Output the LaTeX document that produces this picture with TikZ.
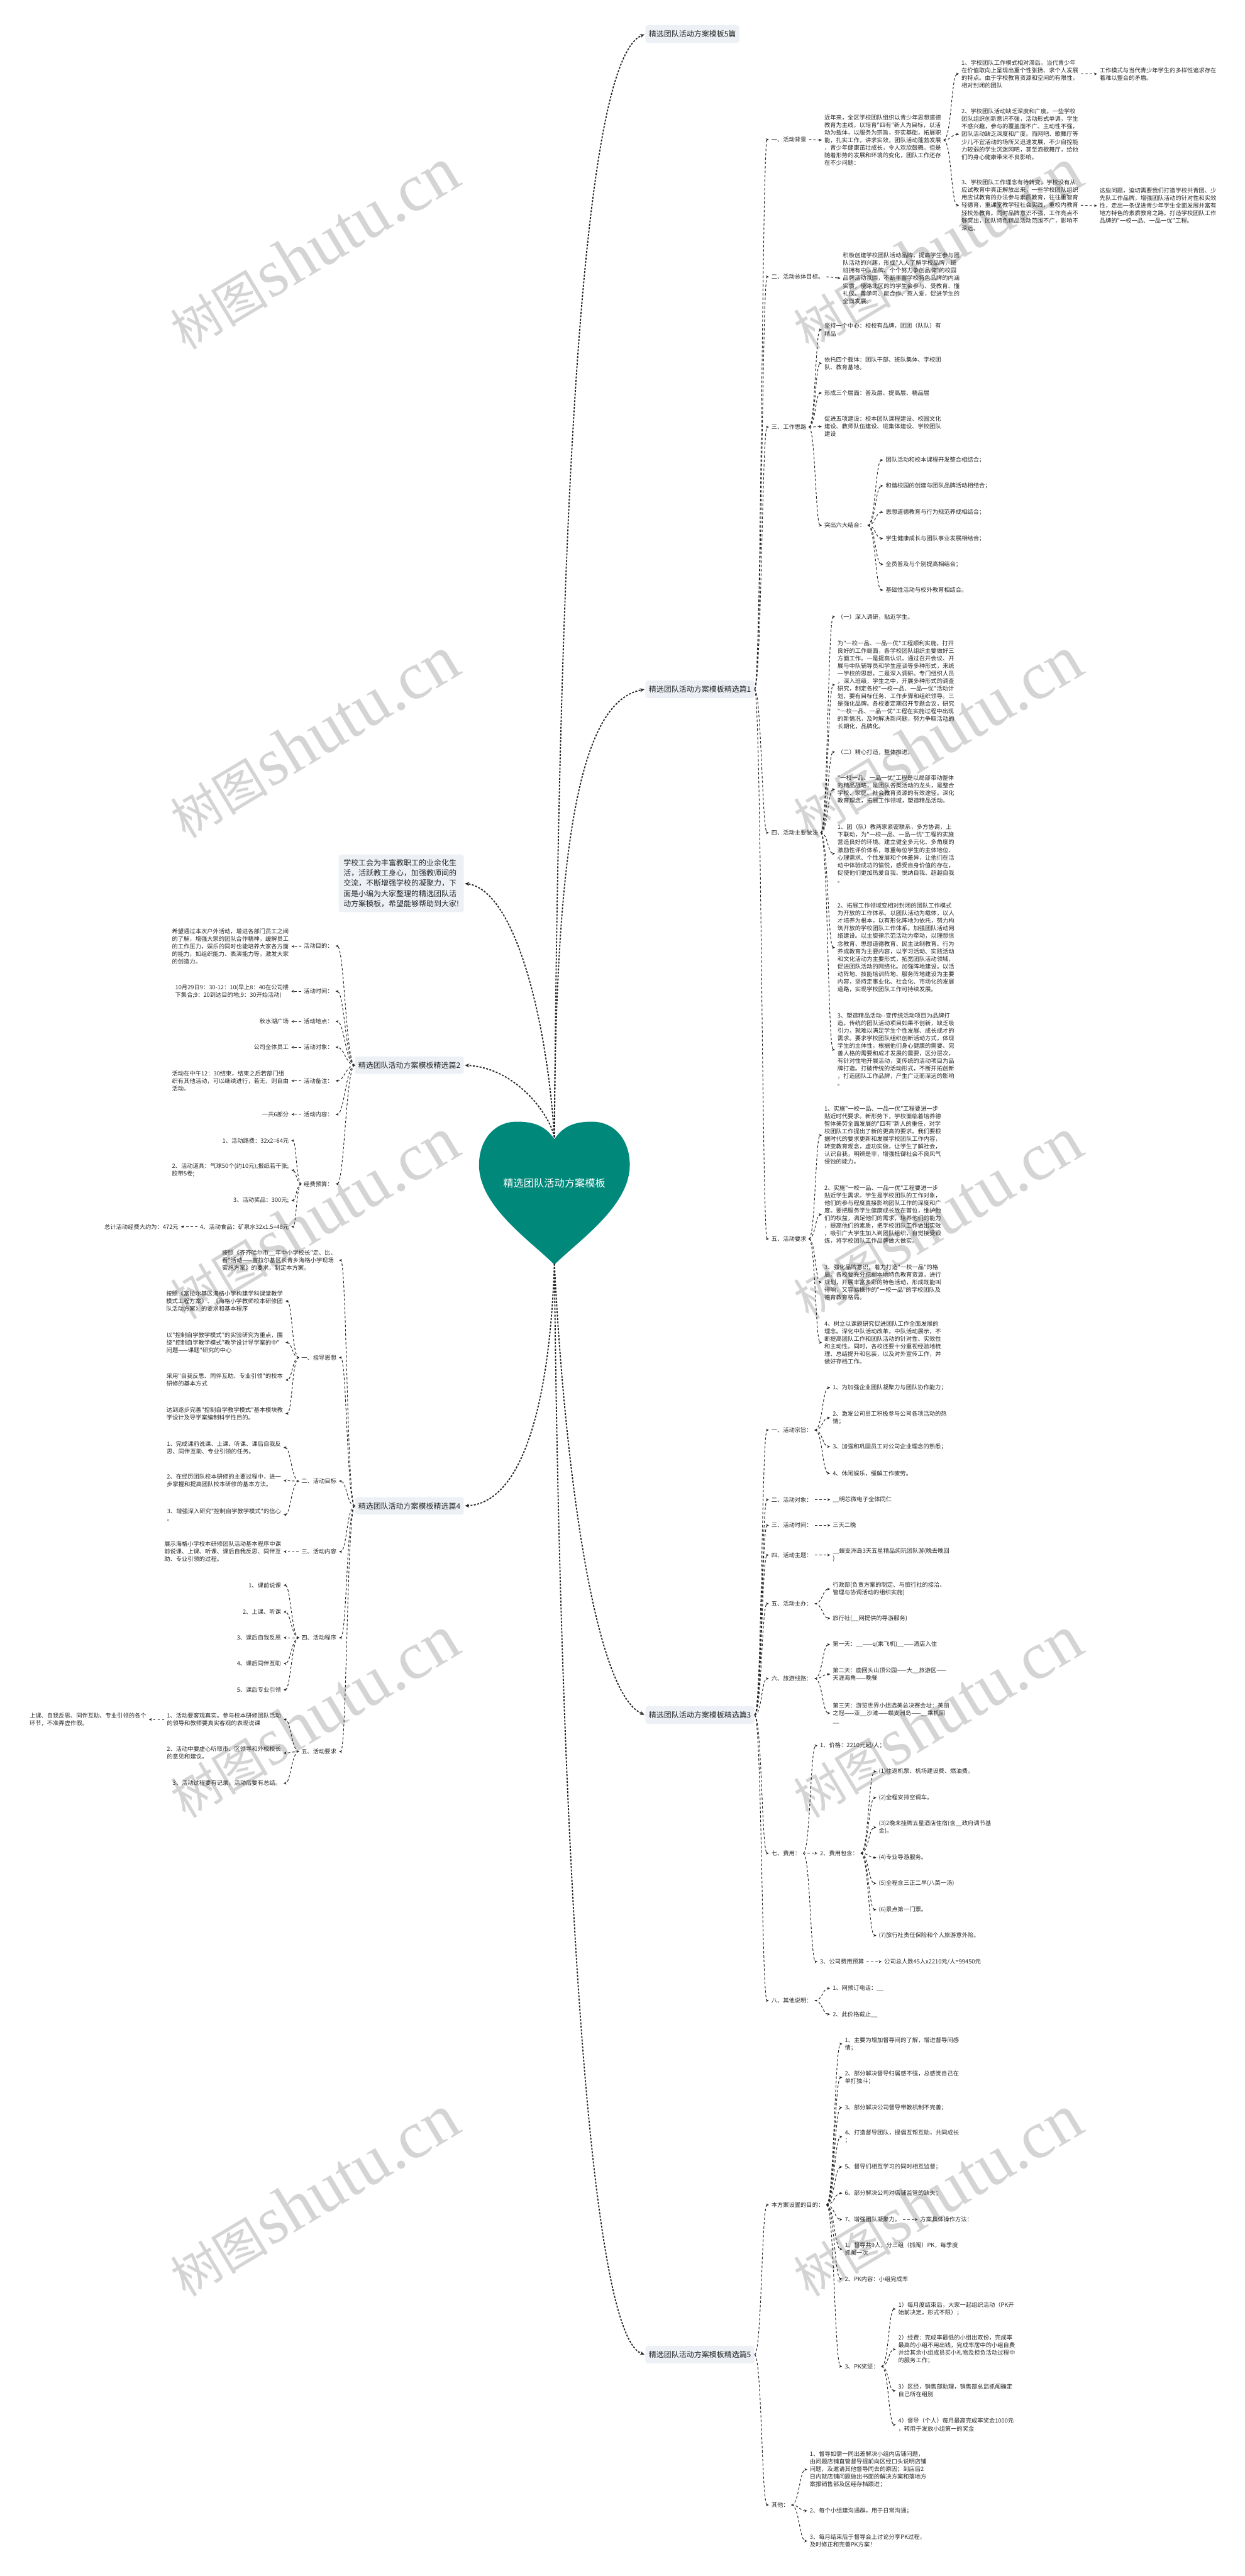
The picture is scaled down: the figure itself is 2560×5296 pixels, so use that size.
\documentclass[tikz,border=0pt]{standalone}
\usepackage{fontspec}
\newfontfamily\cjk{Noto Sans CJK SC}
\newfontfamily\wmser{Liberation Serif}
\usetikzlibrary{arrows.meta}
\definecolor{ink}{HTML}{262626}
\definecolor{boxfill}{HTML}{EDF1F6}
\definecolor{heartfill}{HTML}{00897B}
\definecolor{wmgray}{HTML}{D4D4D4}
\newcommand{\kong}{\_\_}

\tikzset{
  wen/.style={font=\cjk\fontsize{12}{15.6}\selectfont, text=ink, align=left,
    inner xsep=5pt, inner ysep=2pt},
  rt/.style={wen, anchor=west},
  lt/.style={wen, anchor=east},
  pian/.style={font=\cjk\fontsize{15.5}{19}\selectfont, text=ink, fill=boxfill,
    rounded corners=5pt, inner xsep=7pt, minimum height=36pt},
  link/.style={ink, line width=1.3pt, dash pattern=on 5pt off 4pt,
    -{Stealth[length=6pt,width=5.5pt]}},
  hlink/.style={ink, line width=2.4pt, dash pattern=on 4pt off 3pt,
    shorten >=2pt, -{Stealth[length=9pt,width=8pt]}},
  rto/.style={to path={.. controls +(#1,0) and +(-#1,0) .. (\tikztotarget) \tikztonodes}},
  lto/.style={to path={.. controls +(-#1,0) and +(#1,0) .. (\tikztotarget) \tikztonodes}},
  wm/.style={text=wmgray, rotate=31, inner sep=0pt},
}

\begin{document}
\begin{tikzpicture}[x=1pt,y=-1pt]
  \useasboundingbox (0,0) rectangle (2560,5296);
  \fill[white] (0,0) rectangle (2560,5296);

  % 水印
  \foreach \x in {646,1927}
    \foreach \y in {512,1516,2505,3530,4515}
      \node[wm] (wm-\x-\y) at (\x,\y)
        {{\cjk\fontsize{100}{100}\selectfont 树图} {\wmser\fontsize{138}{138}\selectfont shutu.cn}};

  % 中心
  \fill[heartfill] (1140,2342)
      .. controls (1122,2315) and (1098,2306) .. (1063,2306)
      .. controls (1015,2306) and (985,2345) .. (985,2395)
      .. controls (985,2480) and (1090,2550) .. (1140,2600)
      .. controls (1190,2550) and (1295,2480) .. (1295,2395)
      .. controls (1295,2345) and (1265,2306) .. (1217,2306)
      .. controls (1182,2306) and (1158,2315) .. (1140,2342) -- cycle;
  \node[font=\cjk\fontsize{21}{25}\selectfont, text=white] (root) at (1140,2432)
      {精选团队活动方案模板};
  \coordinate (htop) at (1140,2338);
  \coordinate (htip) at (1140,2598);

  \node[pian, anchor=west] (t0) at (1327,70) {精选团队活动方案模板5篇};
  \node[pian, anchor=west] (s1) at (1327,1417) {精选团队活动方案模板精选篇1};
  \node[pian, anchor=east] (s2) at (954,2190) {精选团队活动方案模板精选篇2};
  \node[pian, anchor=west] (s3) at (1327,3526) {精选团队活动方案模板精选篇3};
  \node[pian, anchor=east] (s4) at (954,3096) {精选团队活动方案模板精选篇4};
  \node[pian, anchor=west] (s5) at (1327,4841) {精选团队活动方案模板精选篇5};
  \node[pian, anchor=east, align=left, inner xsep=10pt, inner ysep=10pt,
      font=\cjk\fontsize{15.5}{21}\selectfont] (intro) at (954,1816)
      {学校工会为丰富教职工的业余化生\\活，活跃教工身心，加强教师间的\\交流，不断增强学校的凝聚力，下\\面是小编为大家整理的精选团队活\\动方案模板，希望能够帮助到大家!};

  \draw[hlink] (htop) .. controls (1150,1000) and (1200,120) .. (t0.west);
  \draw[hlink] (htop) .. controls (1142,1700) and (1200,1440) .. (s1.west);
  \draw[hlink] (htop) .. controls (1125,2100) and (1060,1830) .. (intro.east);
  \draw[hlink] (htop) .. controls (1130,2290) and (1060,2195) .. (s2.east);
  \draw[hlink] (htip) .. controls (1130,2900) and (1070,3090) .. (s4.east);
  \draw[hlink] (htip) .. controls (1160,3000) and (1220,3480) .. (s3.west);
  \draw[hlink] (htip) .. controls (1150,3600) and (1200,4800) .. (s5.west);

  % 篇1
  \foreach \n/\y/\t in {a/287/{一、活动背景}, b/569/{二、活动总体目标。},
      c/878/{三、工作思路}, d/1712/{四、活动主要做法}, e/2547/{五、活动要求}}{
    \node[rt] (s1\n) at (1581,\y) {\t};
    \draw[link] (s1.east) to[rto=14] (s1\n.west);
  }

  \node[rt] (s1a0) at (1690,288) {近年来，全区学校团队组织以青少年思想道德\\教育为主线，以培育"四有"新人为目标，以活\\动为载体，以服务为宗旨，夯实基础，拓展职\\能，扎实工作，讲求实效，团队活动蓬勃发展\\，青少年健康茁壮成长，令人欢欣鼓舞。但是\\随着形势的发展和环境的变化，团队工作还存\\在不少问题：};
  \draw[link] (s1a.east) to[rto=13] (s1a0.west);
  \node[rt] (s1a1) at (1972,152) {1、学校团队工作模式相对滞后。当代青少年\\在价值取向上呈现出重个性张扬、求个人发展\\的特点。由于学校教育资源和空间的有限性，\\相对封闭的团队};
  \node[rt] (s1a2) at (1972,276) {2、学校团队活动缺乏深度和广度。一些学校\\团队组织创新意识不强，活动形式单调，学生\\不感兴趣，参与的覆盖面不广、主动性不强，\\团队活动缺乏深度和广度。而网吧、歌舞厅等\\少儿不宜活动的场所又迅速发展，不少自控能\\力较弱的学生沉迷网吧，甚至泡歌舞厅，给他\\们的身心健康带来不良影响。};
  \node[rt] (s1a3) at (1972,422) {3、学校团队工作理念有待转变。学校没有从\\应试教育中真正解放出来，一些学校团队组织\\用应试教育的办法参与素质教育，往往重智育\\轻德育，重课堂教学轻社会实践，重校内教育\\轻校外教育。同时品牌意识不强，工作亮点不\\够突出，团队特色精品活动范围不广，影响不\\深远。};
  \foreach \n in {1,2,3}
    \draw[link] (s1a0.east) to[rto=16] (s1a\n.west);
  \node[rt] (s1a1x) at (2256,152) {工作模式与当代青少年学生的多样性追求存在\\着难以整合的矛盾。};
  \node[rt] (s1a3x) at (2256,423) {这些问题，迫切需要我们打造学校共青团、少\\先队工作品牌，增强团队活动的针对性和实效\\性，走出一条促进青少年学生全面发展并富有\\地方特色的素质教育之路。打造学校团队工作\\品牌的"一校一品、一品一优"工程。};
  \draw[link] (s1a1.east) -- (s1a1x.west);
  \draw[link] (s1a3.east) -- (s1a3x.west);

  \node[rt] (s1b0) at (1728,572) {积极创建学校团队活动品牌，提高学生参与团\\队活动的兴趣，形成"人人了解学校品牌，班\\班拥有中队品牌、个个努力争创品牌"的校园\\品牌活动氛围，不断丰富学校特色品牌的内涵\\实质，使路北区的的学生会参与、受教育、懂\\礼仪、善学习、能合作、惹人爱，促进学生的\\全面发展。};
  \draw[link] (s1b.east) -- (s1b0.west);

  \foreach \n/\y/\t in {1/678/{坚持一个中心：校校有品牌，团团（队队）有\\精品},
      2/747/{依托四个载体：团队干部、班队集体、学校团\\队、教育基地。},
      3/808/{形成三个层面：普及层、提高层、精品层},
      4/877/{促进五项建设：校本团队课程建设、校园文化\\建设、教师队伍建设、班集体建设、学校团队\\建设},
      5/1080/{突出六大结合：}}{
    \node[rt] (s1c\n) at (1690,\y) {\t};
    \draw[link] (s1c.east) to[rto=13] (s1c\n.west);
  }
  \foreach \n/\y/\t in {1/946/{团队活动和校本课程开发整合相结合；},
      2/999/{和谐校园的创建与团队品牌活动相结合；},
      3/1053/{思想道德教育与行为规范养成相结合；},
      4/1107/{学生健康成长与团队事业发展相结合；},
      5/1160/{全员普及与个别提高相结合；},
      6/1213/{基础性活动与校外教育相结合。}}{
    \node[rt] (s1cf\n) at (1816,\y) {\t};
    \draw[link] (s1c5.east) to[rto=16] (s1cf\n.west);
  }

  \node[rt] (s1d1) at (1717,1268) {（一）深入调研，贴近学生。};
  \node[rt] (s1d2) at (1717,1408) {为"一校一品、一品一优"工程顺利实施，打开\\良好的工作局面，各学校团队组织主要做好三\\方面工作。一是提高认识。通过召开会议、开\\展与中队辅导员和学生座谈等多种形式，来统\\一学校的思想。二是深入调研。专门组织人员\\，深入班级，学生之中，开展多种形式的调查\\研究，制定各校"一校一品、一品一优"活动计\\划，要有目标任务、工作步骤和组织领导。三\\是强化品牌。各校要定期召开专题会议，研究\\"一校一品、一品一优"工程在实施过程中出现\\的新情况，及时解决新问题，努力争取活动的\\长期化，品牌化。};
  \node[rt] (s1d3) at (1717,1546) {（二）精心打造，整体推进。};
  \node[rt] (s1d4) at (1717,1623) {"一校一品、一品一优"工程是以局部带动整体\\的精品战略，是团队各类活动的龙头，是整合\\学校、家庭、社会教育资源的有效途径。深化\\教育理念，拓展工作领域，塑造精品活动。};
  \node[rt] (s1d5) at (1717,1755) {1、团（队）教两家紧密联系，多方协调，上\\下联动，为"一校一品、一品一优"工程的实施\\营造良好的环境。建立健全多元化、多角度的\\激励性评价体系，尊重每位学生的主体地位、\\心理需求、个性发展和个体差异，让他们在活\\动中体验成功的愉悦，感受自身价值的存在，\\促使他们更加热爱自我、悦纳自我、超越自我\\。};
  \node[rt] (s1d6) at (1717,1948) {2、拓展工作领域变相对封闭的团队工作模式\\为开放的工作体系。以团队活动为载体，以人\\才培养为根本，以有形化阵地为依托，努力构\\筑开放的学校团队工作体系。加强团队活动网\\络建设。以主旋律示范活动为牵动，以理想信\\念教育、思想道德教育、民主法制教育、行为\\养成教育为主要内容，以学习活动、实践活动\\和文化活动为主要形式，拓宽团队活动领域，\\促进团队活动的网络化。加强阵地建设。以活\\动阵地、技能培训阵地、服务阵地建设为主要\\内容，坚持走事业化、社会化、市场化的发展\\道路，实现学校团队工作可持续发展。};
  \node[rt] (s1d7) at (1717,2158) {3、塑造精品活动-{}-变传统活动项目为品牌打\\造。传统的团队活动项目如果不创新，缺乏吸\\引力，就难以满足学生个性发展、成长成才的\\需求。要求学校团队组织创新活动方式，体现\\学生的主体性，根据他们身心健康的需要、完\\善人格的需要和成才发展的需要，区分层次，\\有针对性地开展活动，变传统的活动项目为品\\牌打造。打破传统的活动形式，不断开拓创新\\，打造团队工作品牌，产生广泛而深远的影响\\。};
  \foreach \n in {1,...,7}
    \draw[link] (s1d.east) to[rto=15] (s1d\n.west);

  \node[rt] (s1e1) at (1690,2334) {1、实施"一校一品、一品一优"工程要进一步\\贴近时代要求。新形势下，学校面临着培养德\\智体美劳全面发展的"四有"新人的重任，对学\\校团队工作提出了新的更高的要求。我们要根\\据时代的要求更新和发展学校团队工作内容，\\转变教育观念，虚功实做，让学生了解社会，\\认识自我，明辨是非，增强抵御社会不良风气\\侵蚀的能力。};
  \node[rt] (s1e2) at (1690,2497) {2、实施"一校一品、一品一优"工程要进一步\\贴近学生需求。学生是学校团队的工作对象，\\他们的参与程度直接影响团队工作的深度和广\\度。要把服务学生健康成长放在首位，维护他\\们的权益，满足他们的需求，培养他们的能力\\，提高他们的素质，把学校团队工作做出实效\\，吸引广大学生加入到团队组织，自觉接受锻\\炼，将学校团队工作品牌做大做实。};
  \node[rt] (s1e3) at (1690,2636) {3、强化品牌意识，着力打造"一校一品"的格\\局。各校要充分挖掘本地特色教育资源，进行\\规划，开展丰富多彩的特色活动，形成既能叫\\得响，又容易操作的"一校一品"的学校团队及\\德育教育格局。};
  \node[rt] (s1e4) at (1690,2760) {4、树立以课题研究促进团队工作全面发展的\\理念。深化中队活动改革，中队活动展示，不\\断提高团队工作和团队活动的针对性、实效性\\和主动性。同时，各校还要十分重视经验地梳\\理、总结提升和包装，以及对外宣传工作，并\\做好存档工作。};
  \foreach \n in {1,...,4}
    \draw[link] (s1e.east) to[rto=13] (s1e\n.west);

  % 篇2
  \foreach \n/\y/\t in {a/1945/{活动目的：}, b/2038/{活动时间：}, c/2100/{活动地点：},
      d/2153/{活动对象：}, e/2222/{活动备注：}, f/2291/{活动内容：}, g/2434/{经费预算：}}{
    \node[lt] (s2\n) at (690,\y) {\t};
    \draw[link] (s2.west) to[lto=18] (s2\n.east);
  }
  \foreach \n/\y/\t in {a/1946/{希望通过本次户外活动，增进各部门员工之间\\的了解，增强大家的团队合作精神，缓解员工\\的工作压力，娱乐的同时也能培养大家各方面\\的能力，如组织能力、表演能力等，激发大家\\的创造力。},
      b/2038/{10月29日9：30-12：10(早上8：40在公司楼\\下集合;9：20到达目的地;9：30开始活动)},
      c/2100/{秋水湖广场}, d/2153/{公司全体员工},
      e/2222/{活动在中午12：30结束，结束之后若部门组\\织有其他活动，可以继续进行，若无，则自由\\活动。},
      f/2291/{一共6部分}}{
    \node[lt] (s2\n0) at (599,\y) {\t};
    \draw[link] (s2\n.west) -- (s2\n0.east);
  }
  \foreach \n/\y/\t in {1/2345/{1、活动路费：32x2=64元},
      2/2406/{2、活动道具：气球50个(约10元);报纸若干张;\\胶带5卷;},
      3/2468/{3、活动奖品：300元;},
      4/2522/{4、活动食品：矿泉水32x1.5=48元}}{
    \node[lt] (s2g\n) at (599,\y) {\t};
    \draw[link] (s2g.west) to[lto=10] (s2g\n.east);
  }
  \node[lt] (s2g4x) at (372,2522) {总计活动经费大约为：472元};
  \draw[link] (s2g4.west) -- (s2g4x.east);

  % 篇4
  \foreach \n/\y/\t in {a/2591/{按照《齐齐哈尔市\kong 年中小学校长"走、比、\\看"活动——富拉尔基区长青乡海格小学现场\\实施方案》的要求，制定本方案。},
      b/2791/{一、指导思想}, c/3045/{二、活动目标}, d/3190/{三、活动内容},
      e/3367/{四、活动程序}, f/3601/{五、活动要求}}{
    \node[lt] (s4\n) at (697,\y) {\t};
    \draw[link] (s4.west) to[lto=16] (s4\n.east);
  }
  \foreach \n/\y/\t in {1/2675/{按照《富拉尔基区海格小学构建学科课堂教学\\模式工程方案》、《海格小学教师校本研修团\\队活动方案》的要求和基本程序},
      2/2760/{以"控制自学教学模式"的实验研究为重点，围\\绕"控制自学教学模式"教学设计导学案的中"\\问题——课题"研究的中心},
      3/2837/{采用"自我反思、同伴互助、专业引领"的校本\\研修的基本方式},
      4/2906/{达到逐步完善"控制自学教学模式"基本模块教\\学设计及导学案编制科学性目的。}}{
    \node[lt] (s4b\n) at (587,\y) {\t};
    \draw[link] (s4b.west) to[lto=14] (s4b\n.east);
  }
  \foreach \n/\y/\t in {1/2976/{1、完成课前说课、上课、听课、课后自我反\\思、同伴互助、专业引领的任务。},
      2/3044/{2、在经历团队校本研修的主要过程中，进一\\步掌握和提高团队校本研修的基本方法。},
      3/3114/{3、增强深入研究"控制自学教学模式"的信心\\。}}{
    \node[lt] (s4c\n) at (583,\y) {\t};
    \draw[link] (s4c.west) to[lto=15] (s4c\n.east);
  }
  \node[lt] (s4d1) at (583,3190) {展示海格小学校本研修团队活动基本程序中课\\前说课、上课、听课、课后自我反思、同伴互\\助、专业引领的过程。};
  \draw[link] (s4d.west) -- (s4d1.east);
  \foreach \n/\y/\t in {1/3259/{1、课前说课}, 2/3314/{2、上课、听课}, 3/3367/{3、课后自我反思},
      4/3420/{4、课后同伴互助}, 5/3474/{5、课后专业引领}}{
    \node[lt] (s4e\n) at (583,\y) {\t};
    \draw[link] (s4e.west) to[lto=15] (s4e\n.east);
  }
  \foreach \n/\y/\t in {1/3535/{1、活动要客观真实。参与校本研修团队活动\\的领导和教师要真实客观的表现说课},
      2/3604/{2、活动中要虚心听取市、区领导和外校校长\\的意见和建议。},
      3/3666/{3、活动过程要有记录，活动后要有总结。}}{
    \node[lt] (s4f\n) at (583,\y) {\t};
    \draw[link] (s4f.west) to[lto=15] (s4f\n.east);
  }
  \node[lt] (s4f1x) at (306,3535) {上课、自我反思、同伴互助、专业引领的各个\\环节，不准弄虚作假。};
  \draw[link] (s4f1.west) -- (s4f1x.east);

  % 篇3
  \foreach \n/\y/\t in {a/2940/{一、活动宗旨：}, b/3083/{二、活动对象：}, c/3136/{三、活动时间：},
      d/3197/{四、活动主题：}, e/3297/{五、活动主办：}, f/3451/{六、旅游线路：},
      g/3810/{七、费用：}, h/4113/{八、其他说明：}}{
    \node[rt] (s3\n) at (1581,\y) {\t};
    \draw[link] (s3.east) to[rto=15] (s3\n.west);
  }
  \foreach \n/\y/\t in {1/2853/{1、为加强企业团队凝聚力与团队协作能力；},
      2/2915/{2、激发公司员工积极参与公司各项活动的热\\情；},
      3/2974/{3、加强和巩固员工对公司企业理念的熟悉；},
      4/3029/{4、休闲娱乐，缓解工作疲劳。}}{
    \node[rt] (s3a\n) at (1707,\y) {\t};
    \draw[link] (s3a.east) to[rto=16] (s3a\n.west);
  }
  \node[rt] (s3b0) at (1707,3083) {\kong 明芯微电子全体同仁};
  \node[rt] (s3c0) at (1707,3136) {三天二晚};
  \node[rt] (s3d0) at (1707,3197) {\kong 蜈支洲岛3天五星精品纯玩团队游(晚去晚回\\)};
  \foreach \n in {b,c,d}
    \draw[link] (s3\n.east) -- (s3\n0.west);
  \node[rt] (s3e1) at (1707,3267) {行政部(负责方案的制定、与旅行社的接洽、\\管理与协调活动的组织实施)};
  \node[rt] (s3e2) at (1707,3327) {旅行社(\kong 网提供的导游服务)};
  \node[rt] (s3f1) at (1707,3381) {第一天：\kong——q(乘飞机)\kong——酒店入住};
  \node[rt] (s3f2) at (1707,3442) {第二天：鹿回头山顶公园——大\kong 旅游区——\\天涯海角——晚餐};
  \node[rt] (s3f3) at (1707,3522) {第三天：游览世界小姐选美总决赛会址：美丽\\之冠——亚\kong 沙滩——蜈支洲岛——\kong 乘机回\\\kong};
  \foreach \n in {1,2}
    \draw[link] (s3e.east) to[rto=16] (s3e\n.west);
  \foreach \n in {1,2,3}
    \draw[link] (s3f.east) to[rto=16] (s3f\n.west);

  \node[rt] (s3g1) at (1681,3589) {1、价格：2210元起/人；};
  \node[rt] (s3g2) at (1681,3810) {2、费用包含：};
  \node[rt] (s3g3) at (1681,4033) {3、公司费用预算};
  \foreach \n in {1,2,3}
    \draw[link] (s3g.east) to[rto=15] (s3g\n.west);
  \foreach \n/\y/\t in {1/3642/{(1)往返机票、机场建设费、燃油费。},
      2/3696/{(2)全程安排空调车。},
      3/3757/{(3)2晚未挂牌五星酒店住宿(含\kong 政府调节基\\金)。},
      4/3819/{(4)专业导游服务。},
      5/3872/{(5)全程含三正二早(八菜一汤)},
      6/3926/{(6)景点第一门票。},
      7/3979/{(7)旅行社责任保险和个人旅游意外险。}}{
    \node[rt] (s3g2\n) at (1802,\y) {\t};
    \draw[link] (s3g2.east) to[rto=16] (s3g2\n.west);
  }
  \node[rt] (s3g3x) at (1813,4033) {公司总人数45人x2210元/人=99450元};
  \draw[link] (s3g3.east) -- (s3g3x.west);
  \node[rt] (s3h1) at (1707,4088) {1、网预订电话：\kong};
  \node[rt] (s3h2) at (1707,4141) {2、此价格截止\kong};
  \foreach \n in {1,2}
    \draw[link] (s3h.east) to[rto=16] (s3h\n.west);

  % 篇5
  \node[rt] (s5a) at (1581,4533) {本方案设置的目的：};
  \node[rt] (s5b) at (1581,5150) {其他：};
  \foreach \n in {a,b}
    \draw[link] (s5.east) to[rto=15] (s5\n.west);
  \foreach \n/\y/\t in {1/4202/{1、主要为增加督导间的了解，增进督导间感\\情；},
      2/4271/{2、部分解决督导归属感不强，总感觉自己在\\单打独斗；},
      3/4333/{3、部分解决公司督导带教机制不完善；},
      4/4393/{4、打造督导团队，提倡互帮互助，共同成长\\；},
      5/4455/{5、督导们相互学习的同时相互监督；},
      6/4509/{6、部分解决公司对店铺监管的缺失；},
      7/4563/{7、增强团队凝聚力。},
      8/4624/{1、督导共9人，分三组（抓阄）PK，每季度\\抓阄一次},
      9/4685/{2、PK内容：小组完成率},
      10/4865/{3、PK奖惩：}}{
    \node[rt] (s5a\n) at (1732,\y) {\t};
    \draw[link] (s5a.east) to[rto=16] (s5a\n.west);
  }
  \node[rt] (s5a7x) at (1887,4563) {方案具体操作方法：};
  \draw[link] (s5a7.east) -- (s5a7x.west);
  \foreach \n/\y/\t in {1/4747/{1）每月度结束后，大家一起组织活动（PK开\\始前决定，形式不限）；},
      2/4830/{2）经费：完成率最低的小组出双份，完成率\\最高的小组不用出钱，完成率居中的小组自费\\并给其余小组成员买小礼物及担负活动过程中\\的服务工作；},
      3/4915/{3）区经，销售部助理，销售部总监抓阄确定\\自己所在组别},
      4/4985/{4）督导（个人）每月最高完成率奖金1000元\\，转用于发放小组第一的奖金}}{
    \node[rt] (s5ak\n) at (1842,\y) {\t};
    \draw[link] (s5a10.east) to[rto=15] (s5ak\n.west);
  }
  \foreach \n/\y/\t in {1/5077/{1、督导如需一同出差解决小组内店铺问题，\\由问题店铺直管督导提前向区经口头说明店铺\\问题，及邀请其他督导同去的原因；到店后2\\日内就店铺问题做出书面的解决方案和落地方\\案报销售部及区经存档跟进；},
      2/5162/{2、每个小组建沟通群，用于日常沟通；},
      3/5224/{3、每月结束后于督导会上讨论分享PK过程，\\及时修正和完善PK方案！}}{
    \node[rt] (s5b\n) at (1660,\y) {\t};
    \draw[link] (s5b.east) to[rto=16] (s5b\n.west);
  }
\end{tikzpicture}
\end{document}
